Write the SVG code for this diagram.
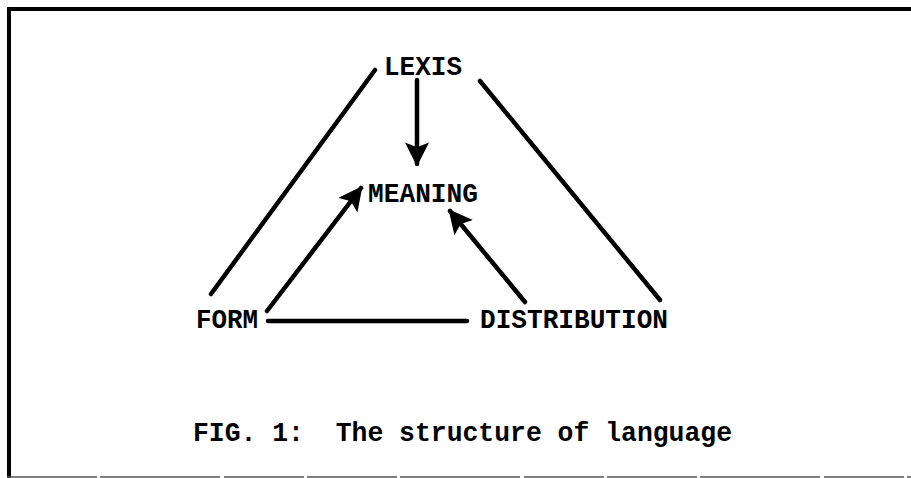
<svg xmlns="http://www.w3.org/2000/svg" width="911" height="478" viewBox="0 0 911 478">
<style>
.t{font-family:"Liberation Mono","Courier New",monospace;font-size:27px;font-weight:bold;fill:#000}
.c{stroke:#000;stroke-width:4.5;stroke-linecap:round;fill:none}
</style>
<defs>
<marker id="ah" markerUnits="userSpaceOnUse" markerWidth="24" markerHeight="24" refX="18" refY="10" orient="auto" viewBox="0 0 20 20">
<path d="M0,0 L20,10 L0,20 L4,10 Z" fill="#000"/>
</marker>
</defs>
<rect width="911" height="478" fill="#fff"/>
<g id="frame">
<line x1="7" y1="9" x2="911" y2="9" stroke="#000" stroke-width="4"/>
<line x1="9" y1="7" x2="9" y2="478" stroke="#000" stroke-width="4"/>
<line x1="7" y1="477" x2="911" y2="477" stroke="#555" stroke-width="1.5" stroke-dasharray="90 3 120 4 80 3"/>
</g>
<g id="connectors">
<line class="c" x1="375" y1="70" x2="211" y2="294"/>
<line class="c" x1="480" y1="81" x2="660" y2="300"/>
<line class="c" x1="268" y1="321" x2="467" y2="321"/>
<line class="c" x1="417" y1="80" x2="417" y2="164" marker-end="url(#ah)"/>
<line class="c" x1="267" y1="311" x2="361" y2="188" marker-end="url(#ah)"/>
<line class="c" x1="525" y1="302" x2="450" y2="211" marker-end="url(#ah)"/>
</g>
<g id="lexis"><text class="t" x="384" y="75" textLength="78" lengthAdjust="spacingAndGlyphs">LEXIS</text></g>
<g id="meaning"><text class="t" x="368" y="202" textLength="110" lengthAdjust="spacingAndGlyphs">MEANING</text></g>
<g id="form"><text class="t" x="196" y="328" textLength="62" lengthAdjust="spacingAndGlyphs">FORM</text></g>
<g id="distribution"><text class="t" x="480" y="328" textLength="188" lengthAdjust="spacingAndGlyphs">DISTRIBUTION</text></g>
<g id="caption"><text class="t" x="193" y="441" xml:space="preserve" textLength="539" lengthAdjust="spacingAndGlyphs">FIG. 1:  The structure of language</text></g>
</svg>
